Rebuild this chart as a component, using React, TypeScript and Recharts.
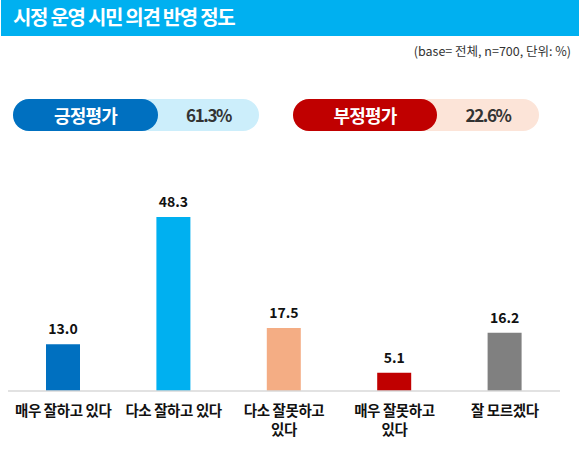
import React from 'react';
import { BarChart, Bar, XAxis, YAxis, Cell, LabelList } from 'recharts';

const categories = ['매우 잘하고 있다', '다소 잘하고 있다', '다소 잘못하고\n있다', '매우 잘못하고\n있다', '잘 모르겠다'];
const values = [13.0, 48.3, 17.5, 5.1, 16.2];
const barColors = ['#0070C0', '#00B0F0', '#F4AD84', '#C00000', '#808080'];

const summaryLabels = ['긍정평가', '부정평가'];
const summaryValues = ['61.3%', '22.6%'];

const FONT = '"Noto Sans CJK KR", "Noto Sans", sans-serif';

const data = categories.map((name, i) => ({ name, value: values[i] }));

function CategoryTick(props: any) {
  const { x, y, payload } = props;
  const lines: string[] = String(payload.value).split('\n');
  return (
    <text
      x={x}
      y={y}
      textAnchor="middle"
      fontFamily={FONT}
      fontSize={14.5}
      fontWeight={700}
      fill="#111"
      letterSpacing={-0.4}
    >
      {lines.map((line, i) => (
        <tspan key={i} x={x} y={y + 25 + i * 19}>
          {line}
        </tspan>
      ))}
    </text>
  );
}

function SummaryPill({ left, label, value, dark, light, darkWidth, totalWidth }: any) {
  return (
    <div
      style={{
        position: 'absolute',
        left,
        top: 99,
        width: totalWidth,
        height: 32,
        borderRadius: 16,
        background: light,
      }}
    >
      <div
        style={{
          position: 'absolute',
          left: 0,
          top: 0,
          width: darkWidth,
          height: 32,
          borderRadius: 16,
          background: dark,
          color: '#fff',
          fontSize: 18,
          fontWeight: 700,
          letterSpacing: -0.8,
          lineHeight: '32px',
          textAlign: 'center',
        }}
      >
        {label}
      </div>
      <div
        style={{
          position: 'absolute',
          left: darkWidth,
          top: 0,
          width: totalWidth - darkWidth,
          height: 32,
          color: '#333',
          fontSize: 17,
          fontWeight: 600,
          letterSpacing: -1.4,
          lineHeight: '32px',
          textAlign: 'center',
        }}
      >
        {value}
      </div>
    </div>
  );
}

export default function App() {
  return (
    <div
      style={{
        position: 'absolute',
        left: 0,
        top: 0,
        width: 580,
        height: 459,
        background: '#fff',
        fontFamily: FONT,
        overflow: 'hidden',
      }}
    >
      <div
        style={{
          position: 'absolute',
          left: 1,
          top: 0,
          width: 578,
          height: 36,
          background: '#00B0F0',
          color: '#fff',
          fontSize: 20,
          fontWeight: 700,
          letterSpacing: -1.3,
          lineHeight: '34px',
          paddingLeft: 12,
          boxSizing: 'border-box',
        }}
      >
        시정 운영 시민 의견 반영 정도
      </div>
      <div
        style={{
          position: 'absolute',
          right: 9,
          top: 41,
          fontSize: 12.5,
          color: '#333',
          letterSpacing: 0,
        }}
      >
        (base= 전체, n=700, 단위: %)
      </div>

      <SummaryPill
        left={13}
        label={summaryLabels[0]}
        value={summaryValues[0]}
        dark="#0070C0"
        light="#CCEEFB"
        darkWidth={145}
        totalWidth={246}
      />
      <SummaryPill
        left={293}
        label={summaryLabels[1]}
        value={summaryValues[1]}
        dark="#C00000"
        light="#FCE4D8"
        darkWidth={144}
        totalWidth={246}
      />

      <div style={{ position: 'absolute', left: 0, top: 0 }}>
        <BarChart
          width={580}
          height={459}
          data={data}
          margin={{ top: 175, right: 20, bottom: 0, left: 8 }}
        >
          <XAxis
            dataKey="name"
            height={68}
            axisLine={{ stroke: '#D9D9D9', strokeWidth: 1.5 }}
            tickLine={false}
            tickSize={0}
            tickMargin={0}
            interval={0}
            tick={<CategoryTick />}
          />
          <YAxis hide domain={[0, 60]} />
          <Bar dataKey="value" barSize={34} isAnimationActive={false}>
            {data.map((_, i) => (
              <Cell key={i} fill={barColors[i]} />
            ))}
            <LabelList
              dataKey="value"
              position="top"
              offset={10}
              formatter={(v: any) => Number(v).toFixed(1)}
              style={{ fontFamily: FONT, fontSize: 14, fontWeight: 700, fill: '#111' }}
            />
          </Bar>
        </BarChart>
      </div>
    </div>
  );
}
